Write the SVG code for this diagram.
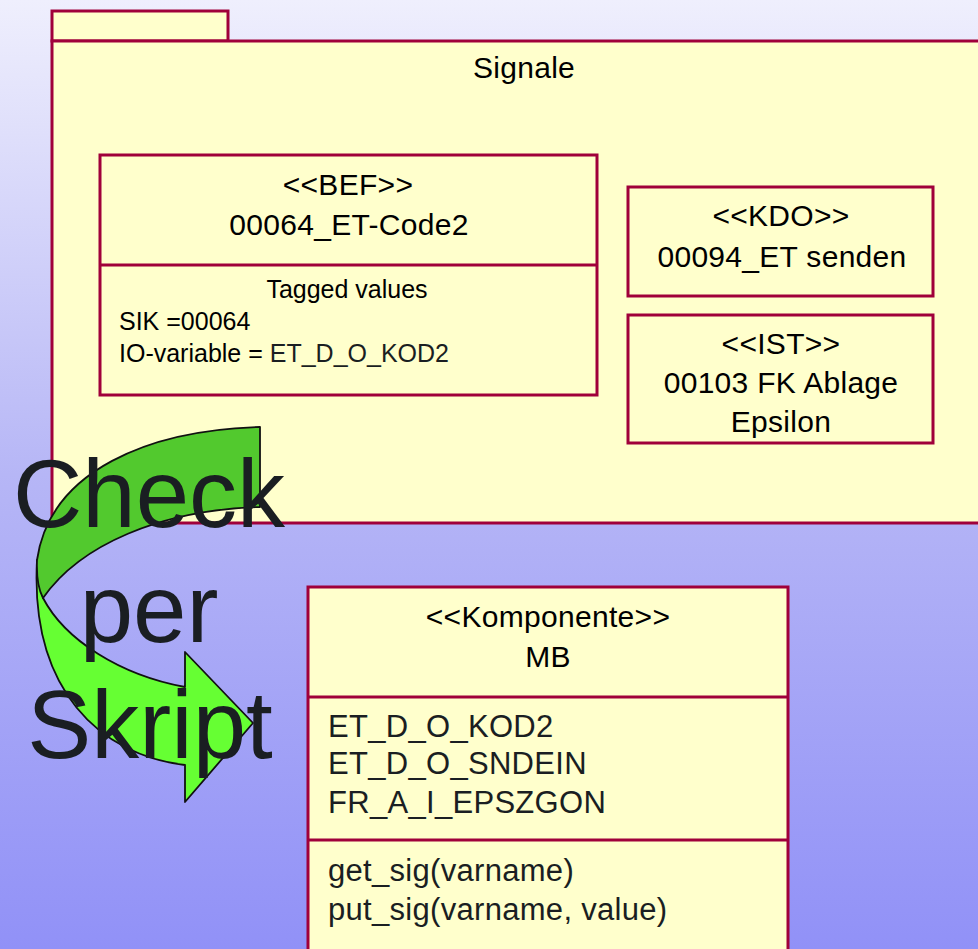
<svg xmlns="http://www.w3.org/2000/svg" width="978" height="949" viewBox="0 0 978 949">
<defs>
<linearGradient id="bg" x1="0" y1="0" x2="0" y2="1">
<stop offset="0" stop-color="#efeffd"/>
<stop offset="0.5" stop-color="#b6b6f6"/>
<stop offset="1" stop-color="#9191f7"/>
</linearGradient>
</defs>
<style>
.box{fill:#ffffcc;stroke:#a0003a;stroke-width:3}
.ln{stroke:#a0003a;stroke-width:3}
.t{font-family:"Liberation Sans",Arial,sans-serif;fill:#000;font-size:30px;letter-spacing:0.3px}
.c{text-anchor:middle}
.s{font-size:25px;letter-spacing:0px}
.a{font-size:31px;fill:#1a1e22;letter-spacing:0.3px}
.big{font-family:"Liberation Sans",Arial,sans-serif;font-size:96px;fill:#1a1e22;text-anchor:middle}
.arr{stroke:#111;stroke-width:1.8;stroke-linejoin:round}
</style>
<rect x="0" y="0" width="978" height="949" fill="url(#bg)"/>
<g id="package-signale">
<rect class="box" x="52" y="11" width="176" height="30"/>
<rect class="box" x="52" y="41" width="940" height="482"/>
<text class="t c" x="524" y="78">Signale</text>
</g>
<g id="node-bef">
<rect class="box" x="100" y="155" width="497" height="240"/>
<line class="ln" x1="100" y1="265" x2="597" y2="265"/>
<text class="t c" x="348" y="195">&lt;&lt;BEF&gt;&gt;</text>
<text class="t c" x="349" y="235">00064_ET-Code2</text>
<text class="t s c" x="347" y="298">Tagged values</text>
<text class="t s" x="119" y="330">SIK =00064</text>
<text class="t s" x="119" y="362">IO-variable = <tspan fill="#1a1e22">ET_D_O_KOD2</tspan></text>
</g>
<g id="node-kdo">
<rect class="box" x="628" y="187" width="305" height="109"/>
<text class="t c" x="781" y="226">&lt;&lt;KDO&gt;&gt;</text>
<text class="t c" x="782" y="267">00094_ET senden</text>
</g>
<g id="node-ist">
<rect class="box" x="628" y="315" width="305" height="128"/>
<text class="t c" x="781" y="354">&lt;&lt;IST&gt;&gt;</text>
<text class="t c" x="781" y="393">00103 FK Ablage</text>
<text class="t c" x="781" y="432">Epsilon</text>
</g>
<g id="node-mb">
<rect class="box" x="308" y="587" width="480" height="380"/>
<line class="ln" x1="308" y1="697" x2="788" y2="697"/>
<line class="ln" x1="308" y1="840" x2="788" y2="840"/>
<text class="t c" x="548" y="627">&lt;&lt;Komponente&gt;&gt;</text>
<text class="t c" x="548" y="667">MB</text>
<text class="t a" x="328" y="737">ET_D_O_KOD2</text>
<text class="t a" x="328" y="774">ET_D_O_SNDEIN</text>
<text class="t a" x="328" y="813">FR_A_I_EPSZGON</text>
<text class="t a" x="328" y="881">get_sig(varname)</text>
<text class="t a" x="328" y="920">put_sig(varname, value)</text>
</g>
<g id="check-arrow">
<path class="arr" fill="#66ff33" d="M37,560 C30,690 100,755 185,765 L185,802 L253,723 L185,652 L185,687 C120,675 65,640 43,598 Z"/>
<path class="arr" fill="#52c92e" d="M260,427 C150,430 50,470 37,560 Q36,585 43,598 C80,545 160,510 260,507 Z"/>
<text class="big" x="149" y="527">Check</text>
<text class="big" x="149" y="642">per</text>
<text class="big" x="150" y="758">Skript</text>
</g>
<g id="connectors"></g>
</svg>
